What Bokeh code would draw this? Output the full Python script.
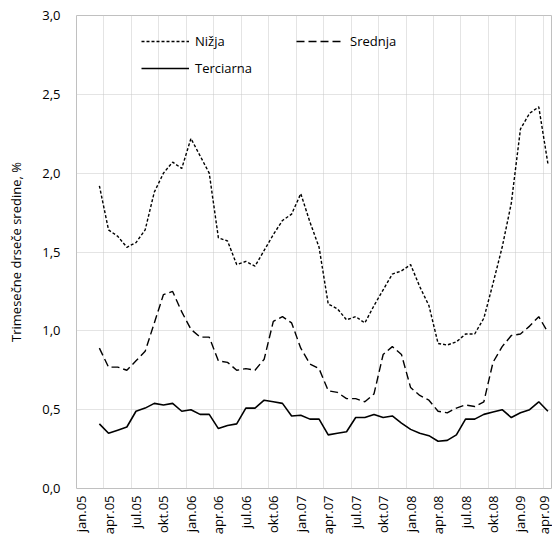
import math
from bokeh.plotting import figure
from bokeh.models import (FixedTicker, Legend, LegendItem, Range1d)
from bokeh.embed import file_html
from bokeh.resources import INLINE

# ---- data ----
n_months = 52  # jan.05 .. apr.09
tick_labels = ["jan.05", "apr.05", "jul.05", "okt.05", "jan.06", "apr.06", "jul.06", "okt.06",
               "jan.07", "apr.07", "jul.07", "okt.07", "jan.08", "apr.08", "jul.08", "okt.08",
               "jan.09", "apr.09"]
first_month = 2  # mar.05 (3-month moving average)

nizja = [1.92, 1.64, 1.60, 1.53, 1.56, 1.64, 1.88, 2.00, 2.07, 2.03, 2.22, 2.11, 2.00,
         1.59, 1.57, 1.42, 1.44, 1.41, 1.51, 1.61, 1.70, 1.74, 1.87, 1.69, 1.53, 1.17,
         1.14, 1.07, 1.09, 1.05, 1.16, 1.26, 1.36, 1.38, 1.42, 1.28, 1.16, 0.92, 0.91,
         0.93, 0.98, 0.98, 1.08, 1.30, 1.53, 1.81, 2.28, 2.38, 2.42, 2.06]
srednja = [0.89, 0.77, 0.77, 0.75, 0.81, 0.87, 1.05, 1.23, 1.25, 1.12, 1.01, 0.96, 0.96,
           0.81, 0.80, 0.75, 0.76, 0.75, 0.82, 1.06, 1.09, 1.05, 0.89, 0.79, 0.76, 0.62,
           0.61, 0.57, 0.57, 0.55, 0.60, 0.85, 0.90, 0.85, 0.64, 0.59, 0.56, 0.49, 0.48,
           0.51, 0.53, 0.52, 0.55, 0.80, 0.90, 0.97, 0.98, 1.03, 1.09, 0.99]
terciarna = [0.41, 0.35, 0.37, 0.39, 0.49, 0.51, 0.54, 0.53, 0.54, 0.49, 0.50, 0.47, 0.47,
             0.38, 0.40, 0.41, 0.51, 0.51, 0.56, 0.55, 0.54, 0.46, 0.465, 0.44, 0.44, 0.34,
             0.35, 0.36, 0.45, 0.45, 0.47, 0.45, 0.46, 0.415, 0.375, 0.35, 0.335, 0.30, 0.305,
             0.34, 0.44, 0.44, 0.47, 0.485, 0.50, 0.45, 0.48, 0.50, 0.55, 0.49]
y_ticks = [0.0, 0.5, 1.0, 1.5, 2.0, 2.5, 3.0]
y_tick_labels = ["0,0", "0,5", "1,0", "1,5", "2,0", "2,5", "3,0"]

FONT = "Open Sans"
FS = "13px"

x = [first_month + k + 0.5 for k in range(len(nizja))]

p = figure(width=552, height=544, output_backend="svg", toolbar_location=None,
           x_range=Range1d(0, n_months), y_range=Range1d(0, 3.0))
p.min_border_left = 76
p.min_border_top = 15
p.min_border_right = 0
p.min_border_bottom = 56
p.outline_line_color = "#c0c0c0"
p.outline_line_width = 1
p.background_fill_color = "white"
p.border_fill_color = "white"

# x axis
xt = [i * 3 + 0.5 for i in range(len(tick_labels))]
p.xaxis.ticker = FixedTicker(ticks=xt)
p.xaxis.major_label_overrides = {t: lab for t, lab in zip(xt, tick_labels)}
p.xaxis.major_label_orientation = math.pi / 2
p.xaxis.axis_line_color = None
p.xaxis.major_tick_line_color = None
p.xaxis.minor_tick_line_color = None
p.xaxis.major_tick_out = 0
p.xaxis.major_tick_in = 0
p.xaxis.major_label_standoff = 7
p.xaxis.major_label_text_font = FONT
p.xaxis.major_label_text_font_size = FS
p.xaxis.major_label_text_color = "black"

p.xgrid.ticker = FixedTicker(ticks=[i * 3 for i in range(1, 18)])
p.xgrid.grid_line_color = "#c8c8c8"
p.xgrid.grid_line_dash = "1 1"
p.xgrid.grid_line_width = 1

# y axis
p.yaxis.ticker = FixedTicker(ticks=y_ticks)
p.yaxis.major_label_overrides = {t: lab for t, lab in zip(y_ticks, y_tick_labels)}
p.yaxis.axis_line_color = None
p.yaxis.major_tick_line_color = None
p.yaxis.minor_tick_line_color = None
p.yaxis.major_tick_out = 0
p.yaxis.major_tick_in = 0
p.yaxis.major_label_standoff = 16
p.yaxis.major_label_text_font = FONT
p.yaxis.major_label_text_font_size = FS
p.yaxis.major_label_text_color = "black"
p.yaxis.axis_label = "Trimesečne drseče sredine, %"
p.yaxis.axis_label_text_font = FONT
p.yaxis.axis_label_text_font_size = FS
p.yaxis.axis_label_text_font_style = "normal"
p.yaxis.axis_label_text_color = "black"
p.yaxis.axis_label_standoff = 14

p.ygrid.grid_line_color = "#c8c8c8"
p.ygrid.grid_line_dash = "1 1"
p.ygrid.grid_line_width = 1

r1 = p.line(x, nizja, line_color="black", line_width=1.4, line_dash="3 2")
r2 = p.line(x, srednja, line_color="black", line_width=1.4, line_dash="8 4")
r3 = p.line(x, terciarna, line_color="black", line_width=1.6)

def make_legend(label, rend, loc):
    lg = Legend(items=[LegendItem(label=label, renderers=[rend])], location=loc,
                padding=0, margin=0, border_line_color=None, background_fill_alpha=0,
                glyph_width=48, glyph_height=16, label_height=16, label_standoff=6,
                label_text_font=FONT, label_text_font_size=FS, label_text_color="black",
                spacing=0)
    p.add_layout(lg, "center")

make_legend("Nižja", r1, (65, 438))
make_legend("Srednja", r2, (220, 438))
make_legend("Terciarna", r3, (65, 411))

open("out.html", "w").write(file_html(p, INLINE))
